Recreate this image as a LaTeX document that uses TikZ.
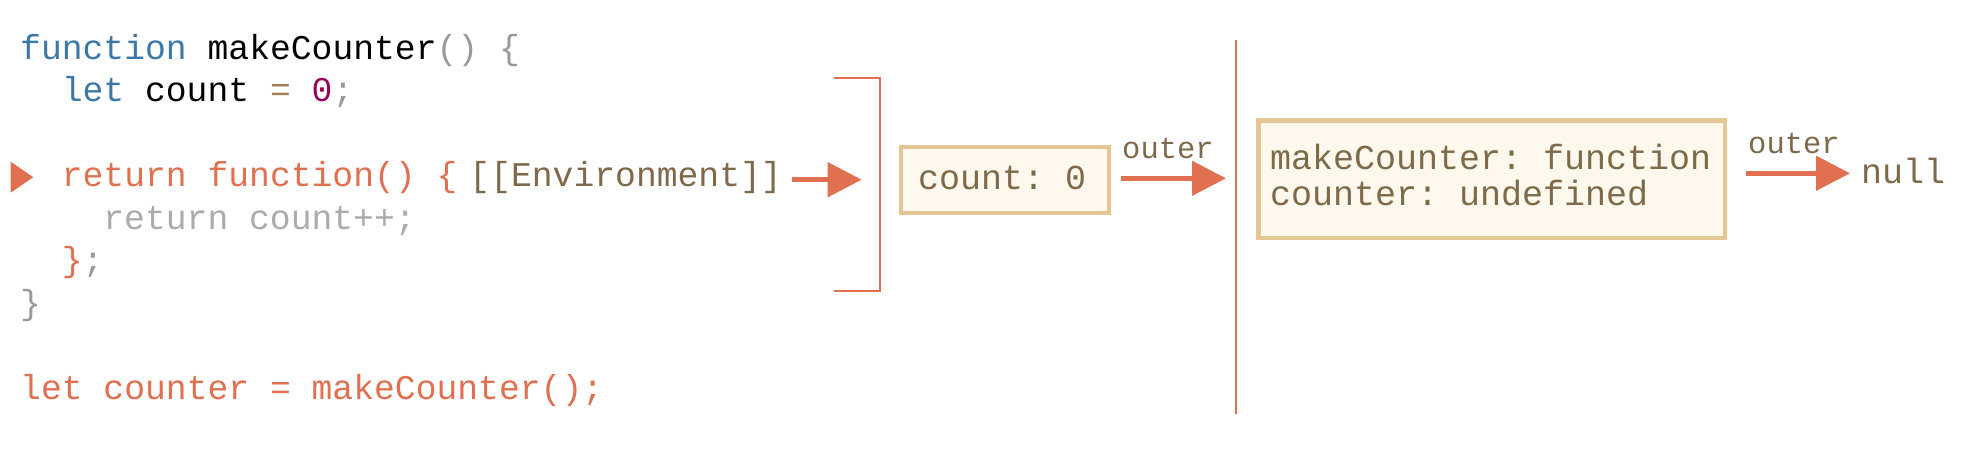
\documentclass[tikz,border=0pt]{standalone}
\usepackage{fontspec}
\setmonofont{Liberation Mono}
\usetikzlibrary{arrows.meta}
\definecolor{jsred}{HTML}{E0704F}
\definecolor{jsblue}{HTML}{3B78A9}
\definecolor{jsbrown}{HTML}{7E6A4B}
\definecolor{jsgray}{HTML}{999999}
\definecolor{jslight}{HTML}{ABABAB}
\definecolor{jsnum}{HTML}{990055}
\definecolor{jsop}{HTML}{A67F59}
\definecolor{boxline}{HTML}{E5C695}
\definecolor{boxfill}{HTML}{FFF8EC}
\begin{document}
\begin{tikzpicture}[x=1pt,y=-1pt,
  code/.style={anchor=base west, inner sep=0pt, font=\ttfamily\fontsize{34.7}{40}\selectfont},
  boxtext/.style={anchor=base west, inner sep=0pt, text=jsbrown, font=\ttfamily\fontsize{35}{40}\selectfont},
  outerlbl/.style={anchor=base west, inner sep=0pt, text=jsbrown, font=\ttfamily\fontsize{30.5}{36}\selectfont},
  envbox/.style={draw=boxline, fill=boxfill, inner sep=0pt},
  arr/.style={draw=jsred, line width=4.7pt, -{Triangle[length=34pt,width=34pt]}},
  redline/.style={draw=jsred, line width=2pt}]
\useasboundingbox (0,0) rectangle (1966,450);

% code lines
\node[code] (l1) at (20,59.3) {\textcolor{jsblue}{function} makeCounter\textcolor{jsgray}{() \{}};
\node[code] (l2) at (61.6,101.8) {\textcolor{jsblue}{let} count \textcolor{jsop}{=} \textcolor{jsnum}{0}\textcolor{jsgray}{;}};
\node[code] (l4) at (61.6,186.7) {\textcolor{jsred}{return function() \{}\hspace{12pt}\textcolor{jsbrown}{[[Environment]]}};
\node[code, text=jslight] (l5) at (103.2,229.2) {return count++;};
\node[code] (l6) at (61.6,271.7) {\textcolor{jsred}{\}}\textcolor{jsgray}{;}};
\node[code, text=jsgray] (l7) at (20,314.2) {\}};
\node[code, text=jsred] (l9) at (20,399.1) {let counter = makeCounter();};

% marker triangle
\fill[jsred] (10.7,161.7) -- (33.3,177.2) -- (10.7,192.7) -- cycle;

% bracket
\draw[redline] (834,78.3) -- (880,78.3) -- (880,291) -- (834,291);

% vertical separator
\draw[redline] (1236,40) -- (1236,414);

% boxes
\node[envbox, line width=4pt, minimum width=207.7pt, minimum height=66pt] (box1) at (1004.85,180) {};
\node[boxtext] (t1) at (918,189.3) {count: 0};

\node[envbox, line width=4.5pt, minimum width=466.8pt, minimum height=117.2pt] (box2) at (1491.65,179.15) {};
\node[boxtext] (t2a) at (1270,169.3) {makeCounter: function};
\node[boxtext] (t2b) at (1270,205) {counter: undefined};

\node[boxtext] (nul) at (1861,183.3) {null};

% labels
\node[outerlbl] (o1) at (1122,158.3) {outer};
\node[outerlbl] (o2) at (1748,153.3) {outer};

% arrows
\coordinate (a1s) at (792,179.7);
\coordinate (a1e) at (861.7,179.7);
\coordinate (a2s) at (1121,178.3);
\coordinate (a2e) at (1226,178.3);
\coordinate (a3s) at (1746,173.3);
\coordinate (a3e) at (1850,173.3);
\draw[arr] (a1s) -- (a1e);
\draw[arr] (a2s) -- (a2e);
\draw[arr] (a3s) -- (a3e);
\end{tikzpicture}
\end{document}
